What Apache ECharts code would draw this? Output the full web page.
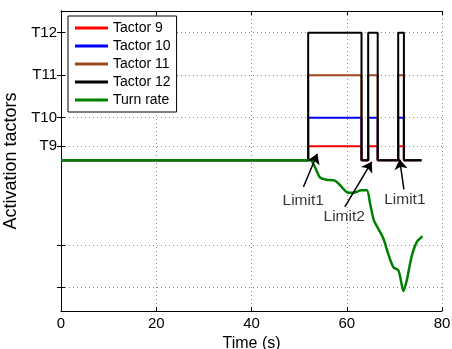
<!DOCTYPE html>
<html>
<head>
<meta charset="utf-8">
<script src="https://cdn.jsdelivr.net/npm/echarts@6/dist/echarts.min.js"></script>
<style>
  html, body { margin: 0; padding: 0; background: #fff; }
  #chart { width: 452px; height: 349px; }
</style>
</head>
<body>
<div id="chart"></div>
<script>
// time axis (s)
const xTicks = [0, 20, 40, 60, 80];

// y ticks: two unlabelled turn-rate ticks, then the tactor levels
const yTickValues = [6, 7, 9.33, 10, 11, 12];
const yTickLabels = ["", "", "T9", "T10", "T11", "T12"];

// tactor switching times, shared by all four tactors
const tactorTimes = [0, 51.9, 51.9, 63.1, 63.1, 64.5, 64.5, 66.5, 66.5, 70.8, 70.8, 72.0, 72.0, 75.7];
const tactor9 = [9, 9, 9.33, 9.33, 9, 9, 9.33, 9.33, 9, 9, 9.33, 9.33, 9, 9];
const tactor10 = [9, 9, 10, 10, 9, 9, 10, 10, 9, 9, 10, 10, 9, 9];
const tactor11 = [9, 9, 11, 11, 9, 9, 11, 11, 9, 9, 11, 11, 9, 9];
const tactor12 = [9, 9, 12, 12, 9, 9, 12, 12, 9, 9, 12, 12, 9, 9];

// turn rate (scaled onto the same axis)
const turnTimes = [0, 52.3, 53.3, 54.4, 55.8, 57.5, 58.6, 60.0, 61.4, 63.1, 64.2, 64.9, 65.7, 66.6, 67.7, 68.7, 69.8, 70.8, 71.3, 71.9, 72.6, 73.6, 74.7, 75.9];
const turnRate = [9, 9, 8.84, 8.59, 8.54, 8.52, 8.41, 8.25, 8.23, 8.29, 8.29, 7.98, 7.58, 7.39, 7.15, 6.80, 6.48, 6.41, 6.21, 5.92, 6.17, 6.72, 7.07, 7.21];

// annotations
const noteText = ["Limit1", "Limit2", "Limit1"];
const noteTextPos = [[50.86, 8.05], [59.46, 7.68], [72.2, 8.07]];
const noteArrowFrom = [[50.9, 8.37], [59.6, 7.9], [72.0, 8.31]];
const noteArrowTo = [[53.82, 9.15], [65.24, 8.96], [71.1, 9.02]];

const font = "'Liberation Sans', Arial, sans-serif";
const gridLine = { show: true, lineStyle: { color: "#8a8a8a", type: [1, 3], width: 1 } };
const axisLine = { show: true, lineStyle: { color: "#000", width: 1 } };

function pairs(xs, ys) {
  return xs.map((x, i) => [x, ys[i]]);
}

function tactorSeries(name, ys, color) {
  return {
    name,
    type: "line",
    data: pairs(tactorTimes, ys),
    symbol: "none",
    lineStyle: { color, width: 2 },
    itemStyle: { color },
  };
}

const chart = echarts.init(document.getElementById("chart"), null, { renderer: "canvas" });
chart.setOption({
  animation: false,
  textStyle: { fontFamily: font },
  grid: { left: 61, right: 10, top: 11, bottom: 38, containLabel: false, outerBoundsMode: "none" },
  legend: {
    orient: "vertical",
    left: 68,
    top: 16,
    padding: [5, 6, 5, 7],
    itemGap: 4,
    itemWidth: 33,
    itemHeight: 3,
    icon: "rect",
    backgroundColor: "#fff",
    borderColor: "#000",
    borderWidth: 1,
    borderRadius: 0,
    textStyle: { fontSize: 14, color: "#000", fontFamily: font },
    data: ["Tactor 9", "Tactor 10", "Tactor 11", "Tactor 12", "Turn rate"],
  },
  xAxis: [
    {
      type: "value",
      min: xTicks[0],
      max: xTicks[xTicks.length - 1],
      interval: 20,
      position: "bottom",
      name: "Time (s)",
      nameLocation: "middle",
      nameGap: 19,
      nameTextStyle: { fontSize: 16, color: "#000" },
      axisLine,
      axisTick: { inside: true, length: 4, lineStyle: { color: "#000" } },
      axisLabel: { fontSize: 15, color: "#000", margin: 5 },
      splitLine: gridLine,
    },
    {
      type: "value",
      min: xTicks[0],
      max: xTicks[xTicks.length - 1],
      interval: 20,
      position: "top",
      axisLine,
      axisTick: { inside: true, length: 4, lineStyle: { color: "#000" } },
      axisLabel: { show: false },
      splitLine: { show: false },
    },
  ],
  yAxis: [
    {
      type: "value",
      min: 5.45,
      max: 12.51,
      position: "left",
      name: "Activation tactors",
      nameLocation: "middle",
      nameGap: 32,
      nameTextStyle: { fontSize: 18, color: "#000" },
      axisLine,
      axisTick: { inside: true, length: 4, customValues: yTickValues, lineStyle: { color: "#000" } },
      axisLabel: {
        fontSize: 15,
        color: "#000",
        margin: 4,
        customValues: yTickValues,
        formatter: (v) => {
          const i = yTickValues.findIndex((t) => Math.abs(t - v) < 1e-6);
          return i >= 0 ? yTickLabels[i] : "";
        },
      },
      splitLine: gridLine,
    },
    {
      type: "value",
      min: 5.45,
      max: 12.51,
      position: "right",
      axisLine,
      axisTick: { inside: true, length: 4, customValues: yTickValues, lineStyle: { color: "#000" } },
      axisLabel: { show: false },
      splitLine: { show: false },
    },
  ],
  series: [
    tactorSeries("Tactor 9", tactor9, "#ff0000"),
    tactorSeries("Tactor 10", tactor10, "#0000ff"),
    tactorSeries("Tactor 11", tactor11, "#a0461e"),
    tactorSeries("Tactor 12", tactor12, "#000000"),
    {
      name: "Turn rate",
      type: "line",
      data: pairs(turnTimes, turnRate),
      symbol: "none",
      smooth: 0.3,
      lineStyle: { color: "#008000", width: 2.5 },
      itemStyle: { color: "#008000" },
    },
    {
      name: "notes",
      type: "scatter",
      silent: true,
      symbolSize: 0,
      data: noteTextPos.map((p, i) => ({ value: p, name: noteText[i] })),
      label: {
        show: true,
        position: "inside",
        formatter: (p) => p.name,
        fontSize: 15.5,
        color: "#000",
        fontFamily: font,
      },
      markLine: {
        silent: true,
        animation: false,
        symbol: ["none", "arrow"],
        symbolSize: 10,
        label: { show: false },
        lineStyle: { color: "#000", width: 1.5, type: "solid" },
        data: noteArrowFrom.map((p, i) => [{ coord: p }, { coord: noteArrowTo[i] }]),
      },
    },
  ],
});
</script>
</body>
</html>
